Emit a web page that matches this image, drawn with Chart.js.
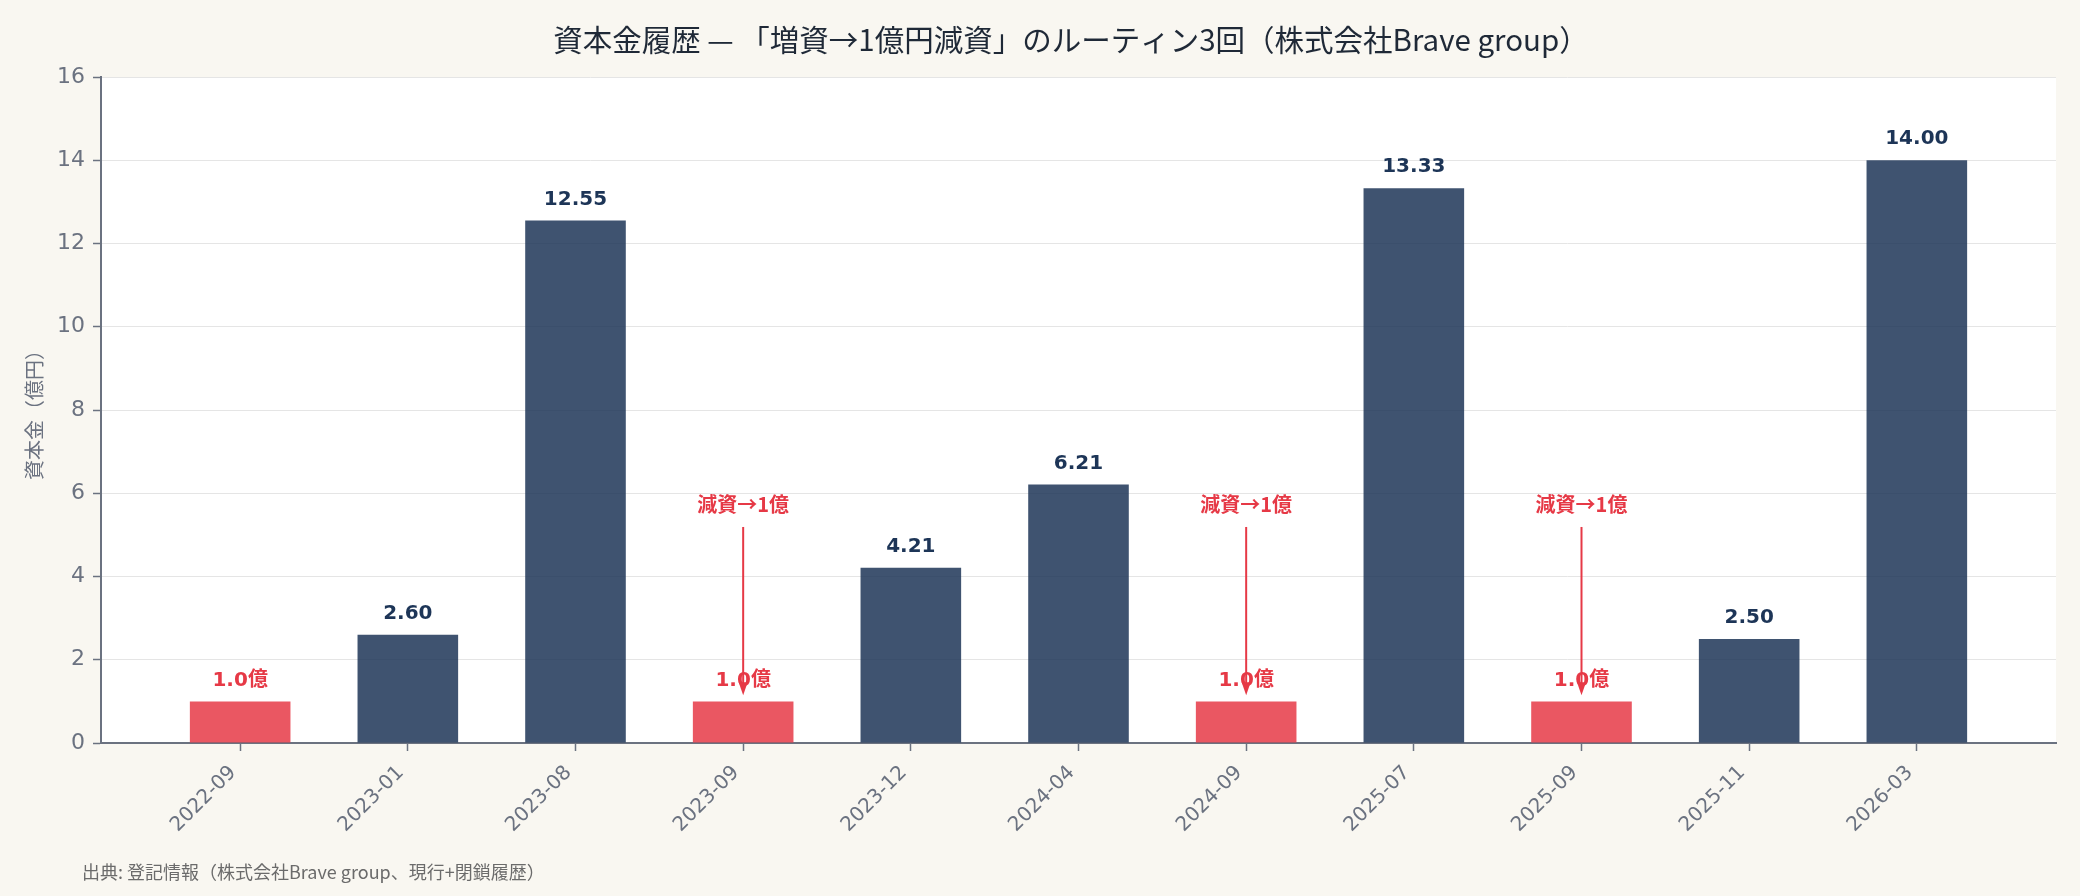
<!DOCTYPE html>
<html lang="ja">
<head>
<meta charset="utf-8">
<script src="https://cdn.jsdelivr.net/npm/chart.js@4.4.1/dist/chart.umd.min.js"></script>
<style>
  html, body { margin: 0; padding: 0; background: #f9f7f1; }
  #wrap { width: 2080px; height: 896px; }
</style>
</head>
<body>
<div id="wrap"><canvas id="c" width="2080" height="896"></canvas></div>
<script>
// ---- data ----
const categories = ['2022-09','2023-01','2023-08','2023-09','2023-12','2024-04','2024-09','2025-07','2025-09','2025-11','2026-03'];
const capital = [1.0, 2.60, 12.55, 1.0, 4.21, 6.21, 1.0, 13.33, 1.0, 2.50, 14.00];
const isReduction = [true, false, false, true, false, false, true, false, true, false, false];
const annotatedIdx = [3, 6, 8];
const annotationText = '減資→1億';
const yTickValues = [0, 2, 4, 6, 8, 10, 12, 14, 16];
const titleText = '資本金履歴 — 「増資→1億円減資」のルーティン3回（株式会社Brave group）';
const sourceText = '出典: 登記情報（株式会社Brave group、現行+閉鎖履歴）';
const yAxisTitle = '資本金（億円）';

// ---- style ----
const NAVY = '#1d3557';
const RED = '#e63946';
const NAVY_A = 'rgba(29,53,87,0.85)';
const RED_A = 'rgba(230,57,70,0.85)';
const GRAY = '#6b7280';
const NUM_FONT = '"DejaVu Sans", "Noto Sans CJK JP", sans-serif';
const JP_FONT = '"Noto Sans CJK JP", "DejaVu Sans", sans-serif';

const bgPlugin = {
  id: 'bg',
  beforeDraw(chart) {
    const {ctx, chartArea: a} = chart;
    ctx.save();
    ctx.fillStyle = '#f9f7f1';
    ctx.fillRect(0, 0, chart.width, chart.height);
    ctx.fillStyle = '#ffffff';
    ctx.fillRect(a.left, a.top, a.right - a.left, a.bottom - a.top);
    ctx.restore();
  }
};

const labelPlugin = {
  id: 'labels',
  afterDatasetsDraw(chart) {
    const {ctx} = chart;
    const meta = chart.getDatasetMeta(0);
    const yScale = chart.scales.y;
    ctx.save();
    ctx.textAlign = 'center';
    ctx.textBaseline = 'middle';
    meta.data.forEach((el, i) => {
      const v = capital[i];
      if (isReduction[i]) {
        ctx.fillStyle = RED;
        ctx.font = 'bold 20px ' + NUM_FONT;
        ctx.fillText(v.toFixed(1) + '億', el.x, el.y - 21);
      } else {
        ctx.fillStyle = NAVY;
        ctx.font = 'bold 20px ' + NUM_FONT;
        ctx.fillText(v.toFixed(2), el.x, el.y - 21);
      }
    });
    // annotations
    annotatedIdx.forEach(i => {
      const el = meta.data[i];
      const x = el.x;
      const yText = yScale.getPixelForValue(5.72);
      const yFrom = yScale.getPixelForValue(5.19);
      const yTo = yScale.getPixelForValue(1.15);
      ctx.fillStyle = RED;
      ctx.font = 'bold 20px ' + JP_FONT;
      ctx.fillText(annotationText, x, yText);
      ctx.strokeStyle = RED;
      ctx.lineWidth = 2;
      ctx.beginPath();
      ctx.moveTo(x, yFrom);
      ctx.lineTo(x, yTo - 10);
      ctx.stroke();
      ctx.beginPath();
      ctx.moveTo(x, yTo);
      ctx.lineTo(x - 4.5, yTo - 13);
      ctx.lineTo(x + 4.5, yTo - 13);
      ctx.closePath();
      ctx.fill();
    });
    ctx.restore();
  },
  afterDraw(chart) {
    const {ctx} = chart;
    ctx.save();
    ctx.fillStyle = '#1f2937';
    ctx.font = '29.5px ' + JP_FONT;
    ctx.textAlign = 'center';
    ctx.textBaseline = 'middle';
    ctx.fillText(titleText, 1071, 40);
    ctx.fillStyle = '#6b6b6b';
    ctx.font = '18px ' + JP_FONT;
    ctx.textAlign = 'left';
    ctx.fillText(sourceText, 82, 872);
    ctx.restore();
  }
};

new Chart(document.getElementById('c'), {
  type: 'bar',
  data: {
    datasets: [{
      data: categories.map((c, i) => ({x: i, y: capital[i]})),
      backgroundColor: isReduction.map(r => r ? RED_A : NAVY_A),
      borderWidth: 0,
      categoryPercentage: 1.0,
      barPercentage: 0.6
    }]
  },
  options: {
    responsive: false,
    animation: false,
    devicePixelRatio: 1,
    layout: { padding: { top: 77, left: 0, right: 24, bottom: 0 } },
    plugins: { legend: { display: false }, tooltip: { enabled: false }, title: { display: false } },
    scales: {
      x: {
        type: 'linear',
        offset: false,
        min: -0.83,
        max: 10.83,
        afterBuildTicks(scale) { scale.ticks = categories.map((c, i) => ({value: i})); },
        afterFit(scale) { scale.height = 153; },
        ticks: {
          callback: (v) => categories[v],
          maxRotation: 45,
          minRotation: 45,
          autoSkip: false,
          color: GRAY,
          font: { family: NUM_FONT, size: 20 },
          padding: 10,
          labelOffset: -7
        },
        grid: { offset: false, drawOnChartArea: false, drawTicks: true, tickLength: 8, tickColor: GRAY, tickWidth: 1.5 },
        border: { display: true, color: GRAY, width: 2 }
      },
      y: {
        min: 0,
        max: 16,
        afterBuildTicks(scale) { scale.ticks = yTickValues.map(v => ({value: v})); },
        afterFit(scale) { scale.width = 101; },
        ticks: { color: GRAY, font: { family: NUM_FONT, size: 22 }, padding: 8 },
        grid: { color: '#e5e5e5', lineWidth: 1, drawTicks: true, tickLength: 8, tickColor: GRAY, tickWidth: 1.5 },
        border: { display: true, color: GRAY, width: 2 },
        title: { display: true, text: yAxisTitle, color: GRAY, font: { family: JP_FONT, size: 20 }, padding: { top: 22, bottom: 0 } }
      }
    }
  },
  plugins: [bgPlugin, labelPlugin]
});
</script>
</body>
</html>
